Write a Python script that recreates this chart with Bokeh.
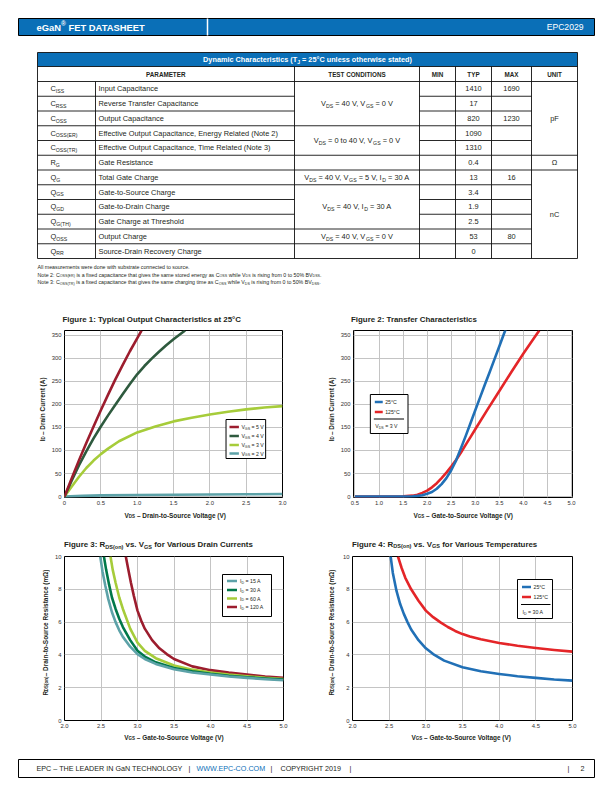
import math
import re
from bokeh.plotting import figure
from bokeh.models import Range1d, Label, FixedTicker, NumeralTickFormatter
from bokeh.layouts import column, row
from bokeh.embed import file_html
from bokeh.resources import INLINE

FONT = "Liberation Sans"
INK = "#231f20"
BLUE_HDR = "#0a6fb7"

# ------------------------------------------------------------------ data
TABLE_SYMBOLS = ["C_{ISS}", "C_{RSS}", "C_{OSS}", "C_{OSS(ER)}", "C_{OSS(TR)}", "R_{G}",
                 "Q_{G}", "Q_{GS}", "Q_{GD}", "Q_{G(TH)}", "Q_{OSS}", "Q_{RR}"]
TABLE_PARAMS = ["Input Capacitance", "Reverse Transfer Capacitance", "Output Capacitance",
                "Effective Output Capacitance, Energy Related (Note 2)",
                "Effective Output Capacitance, Time Related (Note 3)",
                "Gate Resistance", "Total Gate Charge", "Gate-to-Source Charge",
                "Gate-to-Drain Charge", "Gate Charge at Threshold", "Output Charge",
                "Source-Drain Recovery Charge"]
TABLE_MIN = [""] * 12
TABLE_TYP = ["1410", "17", "820", "1090", "1310", "0.4", "13", "3.4", "1.9", "2.5", "53", "0"]
TABLE_MAX = ["1690", "", "1230", "", "", "", "16", "", "", "", "80", ""]
TABLE_COND = [(0, 2, "V_{DS} = 40 V, V_{GS} = 0 V"),
              (3, 4, "V_{DS} = 0 to 40 V, V_{GS} = 0 V"),
              (5, 5, ""),
              (6, 6, "V_{DS} = 40 V, V_{GS} = 5 V, I_{D} = 30 A"),
              (7, 9, "V_{DS} = 40 V, I_{D} = 30 A"),
              (10, 10, "V_{DS} = 40 V, V_{GS} = 0 V"),
              (11, 11, "")]
TABLE_UNIT = [(0, 4, "pF"), (5, 5, "Ω"), (6, 11, "nC")]
TABLE_TITLE = "Dynamic Characteristics (T_{J} = 25°C unless otherwise stated)"
TABLE_HEADERS = ["PARAMETER", "TEST CONDITIONS", "MIN", "TYP", "MAX", "UNIT"]
NOTES = ["All measurements were done with substrate connected to source.",
         "Note 2: C_{OSS(ER)} is a fixed capacitance that gives the same stored energy as C_{OSS} while V_{DS} is rising from 0 to 50% BV_{DSS}.",
         "Note 3: C_{OSS(TR)} is a fixed capacitance that gives the same charging time as C_{OSS} while V_{DS} is rising from 0 to 50% BV_{DSS}."]

# Figure 1: output characteristics
F1_X5 = [0, 0.1, 0.2, 0.3, 0.4, 0.5, 0.6, 0.7, 0.8, 0.9, 1.0, 1.06]
F1_Y5 = [0, 40, 79, 116, 152, 187, 221, 254, 285, 315, 343, 360]
F1_X4 = [0, 0.1, 0.2, 0.3, 0.4, 0.5, 0.6, 0.7, 0.8, 0.9, 1.0, 1.1, 1.2, 1.3, 1.4, 1.5, 1.6, 1.66]
F1_Y4 = [0, 35, 68, 98, 126, 152, 176, 199, 222, 244, 265, 283, 299, 314, 328, 341, 353, 360]
F1_X3 = [0, 0.1, 0.2, 0.3, 0.4, 0.5, 0.6, 0.75, 1.0, 1.25, 1.5, 1.75, 2.0, 2.25, 2.5, 2.75, 3.0]
F1_Y3 = [0, 22, 43, 62, 78, 92, 104, 120, 139, 152, 163, 171, 178, 184, 189, 193, 196]
F1_X2 = [0, 0.25, 0.5, 1.0, 1.5, 2.0, 2.5, 3.0]
F1_Y2 = [0, 1.5, 2.5, 3.5, 4.0, 4.5, 5.0, 5.5]
F1_LEGEND = ["V_{GS} = 5 V", "V_{GS} = 4 V", "V_{GS} = 3 V", "V_{GS} = 2 V"]

# Figure 2: transfer characteristics
F2_X25 = [0.5, 1.0, 1.5, 1.7, 1.8, 1.9, 2.0, 2.1, 2.2, 2.3, 2.4, 2.5, 2.6, 2.7, 2.8, 2.9, 3.0,
          3.1, 3.2, 3.3, 3.4, 3.5, 3.6, 3.63]
F2_Y25 = [0, 0, 0, 0.5, 1.5, 3, 6, 10, 17, 27, 40, 57, 78, 104, 131, 159, 187,
          215, 243, 270, 298, 326, 354, 362]
F2_X125 = [0.5, 1.0, 1.5, 1.7, 1.8, 1.9, 2.0, 2.1, 2.2, 2.3, 2.4, 2.5, 2.6, 2.7, 2.8, 2.9, 3.0,
           3.25, 3.5, 3.75, 4.0, 4.25, 4.33]
F2_Y125 = [0, 0, 0.5, 2, 4, 8, 13, 20, 29, 40, 52, 65, 79, 95, 112, 129, 146,
           188, 229, 270, 310, 348, 360]
F2_LEGEND = ["25°C", "125°C"]
F2_NOTE = "V_{DS} = 3 V"

# Figure 3: RDS(on) vs VGS for drain currents
F3_X15 = [2.49, 2.52, 2.56, 2.6, 2.65, 2.7, 2.75, 2.8, 2.9, 3.0, 3.1, 3.25, 3.5, 3.75, 4.0, 4.25, 4.5, 4.75, 5.0]
F3_Y15 = [10, 9.1, 8.2, 7.4, 6.6, 6.0, 5.5, 5.1, 4.5, 4.05, 3.75, 3.45, 3.12, 2.93, 2.8, 2.68, 2.6, 2.52, 2.45]
F3_X30 = [2.54, 2.57, 2.61, 2.65, 2.7, 2.75, 2.8, 2.9, 3.0, 3.1, 3.25, 3.5, 3.75, 4.0, 4.25, 4.5, 4.75, 5.0]
F3_Y30 = [10, 9.2, 8.3, 7.5, 6.8, 6.2, 5.7, 4.9, 4.25, 3.9, 3.55, 3.2, 3.0, 2.85, 2.73, 2.64, 2.56, 2.5]
F3_X60 = [2.63, 2.66, 2.7, 2.75, 2.8, 2.9, 3.0, 3.1, 3.25, 3.5, 3.75, 4.0, 4.25, 4.5, 4.75, 5.0]
F3_Y60 = [10, 9.2, 8.4, 7.5, 6.8, 5.6, 4.75, 4.25, 3.8, 3.35, 3.1, 2.93, 2.8, 2.7, 2.6, 2.53]
F3_X120 = [2.84, 2.87, 2.91, 2.95, 3.0, 3.05, 3.1, 3.2, 3.3, 3.4, 3.5, 3.75, 4.0, 4.25, 4.5, 4.75, 5.0]
F3_Y120 = [10, 9.3, 8.4, 7.6, 6.7, 6.1, 5.6, 4.9, 4.4, 4.05, 3.75, 3.3, 3.07, 2.92, 2.8, 2.68, 2.6]
F3_LEGEND = ["I_{D} = 15 A", "I_{D} = 30 A", "I_{D} = 60 A", "I_{D} = 120 A"]

# Figure 4: RDS(on) vs VGS for temperatures
F4_X25 = [2.52, 2.55, 2.6, 2.65, 2.7, 2.75, 2.8, 2.9, 3.0, 3.1, 3.25, 3.5, 3.75, 4.0, 4.25, 4.5, 4.75, 5.0]
F4_Y25 = [10, 9.0, 7.9, 7.1, 6.5, 6.0, 5.55, 4.9, 4.4, 4.05, 3.65, 3.25, 3.0, 2.84, 2.7, 2.6, 2.5, 2.43]
F4_X125 = [2.62, 2.67, 2.72, 2.8, 2.9, 3.0, 3.1, 3.2, 3.3, 3.4, 3.5, 3.6, 3.75, 4.0, 4.25, 4.5, 4.75, 5.0]
F4_Y125 = [10, 9.3, 8.7, 8.0, 7.3, 6.7, 6.3, 5.98, 5.7, 5.46, 5.27, 5.12, 4.95, 4.73, 4.56, 4.42, 4.3, 4.2]
F4_LEGEND = ["25°C", "125°C"]
F4_NOTE = "I_{D} = 30 A"

X1_TICKS = [0, 0.5, 1.0, 1.5, 2.0, 2.5, 3.0]
Y1_TICKS = [0, 50, 100, 150, 200, 250, 300, 350]
X2_TICKS = [0.5, 1.0, 1.5, 2.0, 2.5, 3.0, 3.5, 4.0, 4.5, 5.0]
X3_TICKS = [2.0, 2.5, 3.0, 3.5, 4.0, 4.5, 5.0]
Y3_TICKS = [0, 2, 4, 6, 8, 10]

FOOTER = [(36, "EPC – THE LEADER IN GaN TECHNOLOGY", INK), (188, "|", INK),
          (196, "WWW.EPC-CO.COM", BLUE_HDR), (270, "|", INK), (280, "COPYRIGHT 2019", INK),
          (349, "|", INK), (567, "|", INK), (580, "2", INK)]

# ------------------------------------------------------------------ text helpers (Arial-compatible metrics)
AW = dict(zip(" !\"#$%&'()*+,-./", [278, 278, 355, 556, 556, 889, 667, 191, 333, 333, 389, 584, 278, 333, 278, 278]))
AW.update({d: 556 for d in "0123456789"})
AW.update(dict(zip(":;<=>?", [278, 278, 584, 584, 584, 556])))
AW.update(dict(zip("ABCDEFGHIJKLMNOPQRSTUVWXYZ",
                   [667, 667, 722, 722, 667, 611, 778, 722, 278, 500, 667, 556, 833, 722, 778, 667,
                    778, 722, 667, 611, 722, 667, 944, 667, 667, 611])))
AW.update(dict(zip("abcdefghijklmnopqrstuvwxyz",
                   [556, 556, 500, 556, 556, 278, 556, 556, 222, 222, 500, 222, 833, 556, 556, 556,
                    556, 333, 500, 278, 556, 500, 722, 500, 500, 500])))
AW.update({"–": 556, "°": 400, "®": 737, "Ω": 768})
BW = dict(AW)
BW.update({":": 333, ";": 333, "?": 611})
BW.update(dict(zip("ABCDEFGHIJKLMNOPQRSTUVWXYZ",
                   [722, 722, 722, 722, 667, 611, 778, 722, 278, 556, 722, 611, 833, 722, 778, 667,
                    778, 722, 667, 611, 722, 667, 944, 667, 667, 611])))
BW.update(dict(zip("abcdefghijklmnopqrstuvwxyz",
                   [556, 611, 556, 611, 556, 333, 611, 611, 278, 278, 556, 278, 889, 611, 611, 611,
                    611, 389, 556, 333, 611, 556, 778, 556, 556, 500])))


def tw(s, size, bold):
    table = BW if bold else AW
    return sum(table.get(c, 556) for c in s) * size / 1000.0


def parse(s):
    segs = []
    for m in re.finditer(r"_\{([^}]*)\}|\^\{([^}]*)\}|([^_^]+)", s):
        if m.group(1) is not None:
            segs.append((m.group(1), "sub"))
        elif m.group(2) is not None:
            segs.append((m.group(2), "sup"))
        else:
            segs.append((m.group(3), "n"))
    return segs


def rich(p, mapper, px, py, text, size, bold=False, color=INK, align="left", vertical=False):
    segs = parse(text)
    ss = size * 0.7
    ws = [tw(t, size if k == "n" else ss, bold) for t, k in segs]
    total = sum(ws)
    pos = {"left": 0.0, "center": -total / 2.0, "right": -total}[align]
    for (t, k), w in zip(segs, ws):
        s = size if k == "n" else ss
        off = 0.3 * size if k == "sub" else (-0.38 * size if k == "sup" else 0.0)
        lead = len(t) - len(t.lstrip(" "))
        core = t.strip(" ")
        if core:
            at = pos + tw(" " * lead, s, bold)
            if vertical:
                x, y = px + off, py - at
            else:
                x, y = px + at, py + off
            dx, dy = mapper(x, y)
            p.add_layout(Label(x=dx, y=dy, text=core, text_font=FONT, text_font_size=f"{s:.2f}px",
                               text_font_style="bold" if bold else "normal", text_color=color,
                               text_align="left", text_baseline="middle",
                               angle=math.pi / 2 if vertical else 0.0))
        pos += w


def ident(x, y):
    return x, y


def canvas(width, height, left, top):
    p = figure(width=width, height=height, x_range=Range1d(left, left + width),
               y_range=Range1d(top + height, top), x_axis_type=None, y_axis_type=None,
               output_backend="svg", toolbar_location=None, title=None, min_border=0)
    p.outline_line_color = None
    p.background_fill_color = "white"
    p.border_fill_color = "white"
    return p


PW = 610

# ------------------------------------------------------------------ top: header + table
top = canvas(PW, 300, 0, 0)
top.quad(left=[18], right=[594], top=[18], bottom=[35], fill_color=BLUE_HDR, line_color="black", line_width=1)
top.segment(x0=[207], y0=[18], x1=[207], y1=[35], line_color="white", line_width=1.5)
rich(top, ident, 36, 26.8, "eGaN^{®} FET DATASHEET", 9.4, bold=True, color="white")
rich(top, ident, 583, 26.8, "EPC2029", 8.6, color="white", align="right")

COLX = [37, 95, 294, 419, 455, 491, 531, 577]
TT, HB, RB, RH = 52, 66, 81, 14.75
NR = len(TABLE_TYP)
TB = RB + NR * RH

top.quad(left=[COLX[0]], right=[COLX[-1]], top=[TT], bottom=[HB], fill_color=BLUE_HDR, line_color=None)
rich(top, ident, (COLX[0] + COLX[-1]) / 2, (TT + HB) / 2, TABLE_TITLE, 7.3, bold=True, color="white", align="center")

hx = [(COLX[0] + COLX[2]) / 2] + [(COLX[i] + COLX[i + 1]) / 2 for i in range(2, 7)]
for x, h in zip(hx, TABLE_HEADERS):
    rich(top, ident, x, (HB + RB) / 2, h, 6.3, bold=True, color=INK, align="center")

x0s, y0s, x1s, y1s = [], [], [], []


def seg(a, b, c, d):
    x0s.append(a); y0s.append(b); x1s.append(c); y1s.append(d)


seg(COLX[0], TT, COLX[-1], TT)
seg(COLX[0], HB, COLX[-1], HB)
seg(COLX[0], RB, COLX[-1], RB)
seg(COLX[0], TB, COLX[-1], TB)
seg(COLX[0], TT, COLX[0], TB)
seg(COLX[-1], TT, COLX[-1], TB)
seg(COLX[1], RB, COLX[1], TB)
for cx in COLX[2:-1]:
    seg(cx, HB, cx, TB)
cond_bounds = {b + 1 for a, b, t in TABLE_COND}
unit_bounds = {b + 1 for a, b, t in TABLE_UNIT}
for i in range(1, NR):
    y = RB + i * RH
    seg(COLX[0], y, COLX[2], y)
    seg(COLX[3], y, COLX[6], y)
    if i in cond_bounds:
        seg(COLX[2], y, COLX[3], y)
    if i in unit_bounds:
        seg(COLX[6], y, COLX[7], y)
top.segment(x0=x0s, y0=y0s, x1=x1s, y1=y1s, line_color="#111111", line_width=0.9)

TS = 7.4
for i in range(NR):
    yc = RB + (i + 0.5) * RH
    rich(top, ident, 50, yc, TABLE_SYMBOLS[i], TS)
    rich(top, ident, 98, yc, TABLE_PARAMS[i], TS)
    for j, vals in ((3, TABLE_MIN), (4, TABLE_TYP), (5, TABLE_MAX)):
        if vals[i]:
            rich(top, ident, (COLX[j] + COLX[j + 1]) / 2, yc, vals[i], TS, align="center")
for a, b, t in TABLE_COND:
    if t:
        rich(top, ident, (COLX[2] + COLX[3]) / 2, RB + (a + b + 1) / 2 * RH, t, TS, align="center")
for a, b, t in TABLE_UNIT:
    rich(top, ident, (COLX[6] + COLX[7]) / 2, RB + (a + b + 1) / 2 * RH, t, TS, align="center")

for k, note in enumerate(NOTES):
    rich(top, ident, 37, 266.5 + k * 7.7, note, 5.25)


# ------------------------------------------------------------------ charts
def chart(width, height, page_left, page_top, bl, br, bt, bb, xr, yr, xticks, yticks):
    p = figure(width=width, height=height, x_range=Range1d(*xr), y_range=Range1d(*yr),
               output_backend="svg", toolbar_location=None, title=None,
               min_border_left=bl, min_border_right=br, min_border_top=bt, min_border_bottom=bb)
    p.background_fill_color = "white"
    p.border_fill_color = "white"
    p.outline_line_color = "black"
    p.outline_line_width = 1
    xt, yt = FixedTicker(ticks=xticks), FixedTicker(ticks=yticks)
    p.xaxis.ticker = xt
    p.yaxis.ticker = yt
    p.xgrid.ticker = xt
    p.ygrid.ticker = yt
    p.xaxis.formatter = NumeralTickFormatter(format="0.0")
    if xticks[0] == 0:
        p.xaxis.major_label_overrides = {0: "0"}
    for ax in (p.xaxis, p.yaxis):
        ax.axis_line_color = None
        ax.major_tick_line_color = None
        ax.minor_tick_line_color = None
        ax.major_tick_out = 0
        ax.major_tick_in = 0
        ax.minor_tick_out = 0
        ax.minor_tick_in = 0
        ax.major_label_text_font = FONT
        ax.major_label_text_font_size = "5.9px"
        ax.major_label_text_color = "#333333"
        ax.major_label_standoff = 3
    p.xgrid.grid_line_color = "#c4c4c4"
    p.ygrid.grid_line_color = "#c4c4c4"
    p.xgrid.grid_line_width = 1
    p.ygrid.grid_line_width = 1
    fl, fr = page_left + bl, page_left + width - br
    ft, fb = page_top + bt, page_top + height - bb

    def mapper(px, py):
        return (xr[0] + (px - fl) / (fr - fl) * (xr[1] - xr[0]),
                yr[0] + (fb - py) / (fb - ft) * (yr[1] - yr[0]))
    return p, mapper


LEG_S = 5.2


def legend(p, m, box, colors, labels, ys, lx, tx, note=None, sep=None):
    l, t, r, b = box
    (ql, qt), (qr, qb) = m(l, t), m(r, b)
    p.quad(left=[ql], right=[qr], top=[qt], bottom=[qb], fill_color="white", line_color="black", line_width=1)
    for c, lab, y in zip(colors, labels, ys):
        (sx0, sy), (sx1, _) = m(lx[0], y), m(lx[1], y)
        p.segment(x0=[sx0], y0=[sy], x1=[sx1], y1=[sy], line_color=c, line_width=2.6)
        rich(p, m, tx, y, lab, LEG_S)
    if note:
        (a0, sy), (a1, _) = m(sep[0], sep[2]), m(sep[1], sep[2])
        p.segment(x0=[a0], y0=[sy], x1=[a1], y1=[sy], line_color="black", line_width=1)
        rich(p, m, sep[3], sep[4], note, LEG_S)


LW = 2.6
C_DRED, C_DGRN, C_LIME, C_TEAL = "#9c1d2e", "#2e5a3e", "#a6cc3a", "#5da2a8"
C_GRN = "#00784a"
C_BLUE, C_RED = "#2170b6", "#e42528"
TITLE_S, AXL_S = 7.9, 6.45

# ---------------- row 1 (page y 300..528)
title1 = canvas(PW, 24, 0, 300)
rich(title1, ident, 62, 319, "Figure 1: Typical Output Characteristics at 25°C", TITLE_S, bold=True)
rich(title1, ident, 350.5, 319, "Figure 2: Transfer Characteristics", TITLE_S, bold=True)

ylab1 = canvas(48, 186, 0, 324)
rich(ylab1, ident, 41.5, 415, "I_{D} – Drain Current (A)", AXL_S, bold=True, align="center", vertical=True)
f1, m1 = chart(258, 186, 48, 324, 14, 24, 6, 13, (0, 3), (-2, 360), X1_TICKS, Y1_TICKS)
for xs, ys, c in ((F1_X2, F1_Y2, C_TEAL), (F1_X3, F1_Y3, C_LIME), (F1_X4, F1_Y4, C_DGRN), (F1_X5, F1_Y5, C_DRED)):
    f1.line(xs, ys, line_color=c, line_width=LW, line_join="round")
legend(f1, m1, (225, 419, 265, 458), [C_DRED, C_DGRN, C_LIME, C_TEAL], F1_LEGEND,
       [426.5, 435.5, 444.5, 453], (228.5, 238), 240.5)

ylab2 = canvas(31, 186, 306, 324)
rich(ylab2, ident, 330.5, 415, "I_{D} – Drain Current (A)", AXL_S, bold=True, align="center", vertical=True)
f2, m2 = chart(273, 186, 337, 324, 14, 38, 6, 13, (0.47, 5.02), (-2, 360), X2_TICKS, Y1_TICKS)
f2.line(F2_X125, F2_Y125, line_color=C_RED, line_width=LW, line_join="round")
f2.line(F2_X25, F2_Y25, line_color=C_BLUE, line_width=LW, line_join="round")
legend(f2, m2, (368, 394, 406, 433), [C_BLUE, C_RED], F2_LEGEND, [401.5, 411.5],
       (372.5, 380.5), 383, note=F2_NOTE, sep=(371.5, 402, 418.5, 373, 425.5))

xlab1 = canvas(PW, 18, 0, 510)
rich(xlab1, ident, 175, 514.5, "V_{DS} – Drain-to-Source Voltage (V)", AXL_S, bold=True, align="center")
rich(xlab1, ident, 463, 514.5, "V_{GS} – Gate-to-Source Voltage (V)", AXL_S, bold=True, align="center")

# ---------------- row 2 (page y 528..752)
title2 = canvas(PW, 23, 0, 528)
rich(title2, ident, 63.5, 544.3, "Figure 3: R_{DS(on)} vs. V_{GS} for Various Drain Currents", TITLE_S, bold=True)
rich(title2, ident, 351.5, 543.5, "Figure 4: R_{DS(on)} vs. V_{GS} for Various Temperatures", TITLE_S, bold=True)

ylab3 = canvas(50, 181, 0, 551)
rich(ylab3, ident, 44.5, 640.5, "R_{DS(on)} – Drain-to-Source Resistance (mΩ)", AXL_S, bold=True, align="center", vertical=True)
f3, m3 = chart(256, 181, 50, 551, 14, 23, 5, 12, (2, 5), (0, 10), X3_TICKS, Y3_TICKS)
for xs, ys, c in ((F3_X120, F3_Y120, C_DRED), (F3_X60, F3_Y60, C_LIME), (F3_X30, F3_Y30, C_GRN), (F3_X15, F3_Y15, C_TEAL)):
    f3.line(xs, ys, line_color=c, line_width=LW, line_join="round")
legend(f3, m3, (222, 574, 271, 616), [C_TEAL, C_GRN, C_LIME, C_DRED], F3_LEGEND,
       [580.5, 589.5, 598, 606.5], (226.5, 236.5), 239.5)

ylab4 = canvas(32, 181, 306, 551)
rich(ylab4, ident, 330.5, 640.5, "R_{DS(on)} – Drain-to-Source Resistance (mΩ)", AXL_S, bold=True, align="center", vertical=True)
f4, m4 = chart(272, 181, 338, 551, 14, 38, 5, 12, (2, 5), (0, 10), X3_TICKS, Y3_TICKS)
f4.line(F4_X125, F4_Y125, line_color=C_RED, line_width=LW, line_join="round")
f4.line(F4_X25, F4_Y25, line_color=C_BLUE, line_width=LW, line_join="round")
legend(f4, m4, (517, 579, 552, 618), [C_BLUE, C_RED], F4_LEGEND, [586.5, 596.5],
       (521.5, 530.5), 533, note=F4_NOTE, sep=(520.5, 550, 604, 522, 611.5))

xlab2 = canvas(PW, 20, 0, 732)
rich(xlab2, ident, 173.7, 736.5, "V_{GS} – Gate-to-Source Voltage (V)", AXL_S, bold=True, align="center")
rich(xlab2, ident, 461, 736.5, "V_{GS} – Gate-to-Source Voltage (V)", AXL_S, bold=True, align="center")

# ------------------------------------------------------------------ footer
foot = canvas(PW, 38, 0, 752)
foot.quad(left=[18], right=[594], top=[759], bottom=[777], fill_color=None, line_color="black", line_width=1)
for x, t, c in FOOTER:
    rich(foot, ident, x, 768, t, 7.2, color=c)

layout = column(top,
                title1, row(ylab1, f1, ylab2, f2, spacing=0), xlab1,
                title2, row(ylab3, f3, ylab4, f4, spacing=0), xlab2,
                foot, spacing=0)
open("out.html", "w").write(file_html(layout, INLINE))
